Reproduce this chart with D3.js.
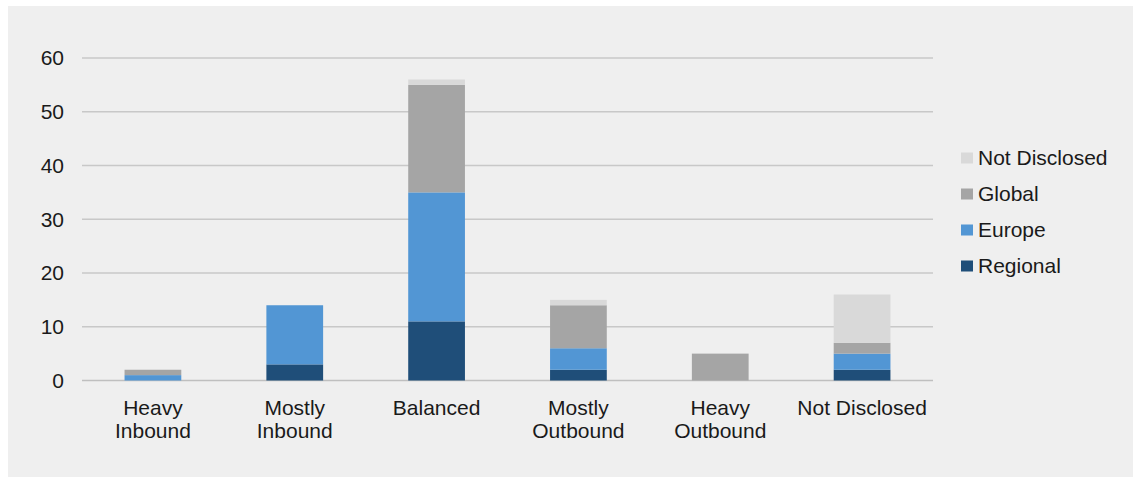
<!DOCTYPE html>
<html>
<head>
<meta charset="utf-8">
<script src="https://cdn.jsdelivr.net/npm/d3@7"></script>
<style>
  body { margin: 0; background: #fff; }
  text { font-family: "Liberation Sans", Arial, sans-serif; fill: #1a1a1a; }
</style>
</head>
<body>
<svg id="chart" width="1141" height="478"></svg>
<script>
const categories = [["Heavy", "Inbound"], ["Mostly", "Inbound"], ["Balanced"], ["Mostly", "Outbound"], ["Heavy", "Outbound"], ["Not Disclosed"]];
const seriesNames = ["Regional", "Europe", "Global", "Not Disclosed"];
const regional     = [0, 3, 11, 2, 0, 2];
const europe       = [1, 11, 24, 4, 0, 3];
const global       = [1, 0, 20, 8, 5, 2];
const notDisclosed = [0, 0, 1, 1, 0, 9];
const yTicks = [0, 10, 20, 30, 40, 50, 60];
const colors = ["#1f4e79", "#5296d4", "#a5a5a5", "#d9d9d9"];

const svg = d3.select('#chart');

svg.append('rect')
  .attr('x', 8).attr('y', 6)
  .attr('width', 1125).attr('height', 471)
  .attr('fill', '#efefef');

const x = d3.scaleBand()
  .domain(d3.range(categories.length))
  .range([82, 933])
  .paddingInner(0.6)
  .paddingOuter(0.3);

const y = d3.scaleLinear()
  .domain([0, 60])
  .range([380.5, 58]);

// gridlines
svg.append('g')
  .selectAll('line')
  .data(yTicks)
  .enter()
  .append('line')
  .attr('x1', 82).attr('x2', 933)
  .attr('y1', d => y(d)).attr('y2', d => y(d))
  .attr('stroke', d => d === 0 ? '#bfbfbf' : '#c8c8c8')
  .attr('stroke-width', 1.5);

// y labels
svg.append('g')
  .selectAll('text')
  .data(yTicks)
  .enter()
  .append('text')
  .attr('x', 64)
  .attr('y', d => y(d))
  .attr('dy', '0.35em')
  .attr('text-anchor', 'end')
  .style('font-size', '21px')
  .text(d => d);

// stacked bars
const rows = categories.map((c, i) => ({
  idx: i,
  Regional: regional[i],
  Europe: europe[i],
  Global: global[i],
  "Not Disclosed": notDisclosed[i]
}));
const stack = d3.stack().keys(seriesNames)(rows);

svg.append('g')
  .selectAll('g')
  .data(stack)
  .enter()
  .append('g')
  .attr('fill', (d, i) => colors[i])
  .selectAll('rect')
  .data(d => d.filter(s => s[1] - s[0] > 0))
  .enter()
  .append('rect')
  .attr('x', d => x(d.data.idx))
  .attr('y', d => y(d[1]))
  .attr('width', x.bandwidth())
  .attr('height', d => y(d[0]) - y(d[1]));

// x labels
const xl = svg.append('g')
  .selectAll('text')
  .data(categories)
  .enter()
  .append('text')
  .attr('text-anchor', 'middle')
  .attr('x', (d, i) => x(i) + x.bandwidth() / 2)
  .attr('y', 415)
  .style('font-size', '21px');

xl.selectAll('tspan')
  .data(d => d)
  .enter()
  .append('tspan')
  .attr('x', function() { return this.parentNode.getAttribute('x'); })
  .attr('dy', (d, i) => i === 0 ? 0 : 23)
  .text(d => d);

// legend
const legend = svg.append('g')
  .selectAll('g')
  .data(seriesNames.slice().reverse())
  .enter()
  .append('g')
  .attr('transform', (d, i) => 'translate(961,' + (158 + i * 36) + ')');

legend.append('rect')
  .attr('x', 0).attr('y', -5.5)
  .attr('width', 12).attr('height', 11)
  .attr('fill', d => colors[seriesNames.indexOf(d)]);

legend.append('text')
  .attr('x', 17)
  .attr('dy', '0.35em')
  .style('font-size', '21px')
  .text(d => d);
</script>
</body>
</html>
